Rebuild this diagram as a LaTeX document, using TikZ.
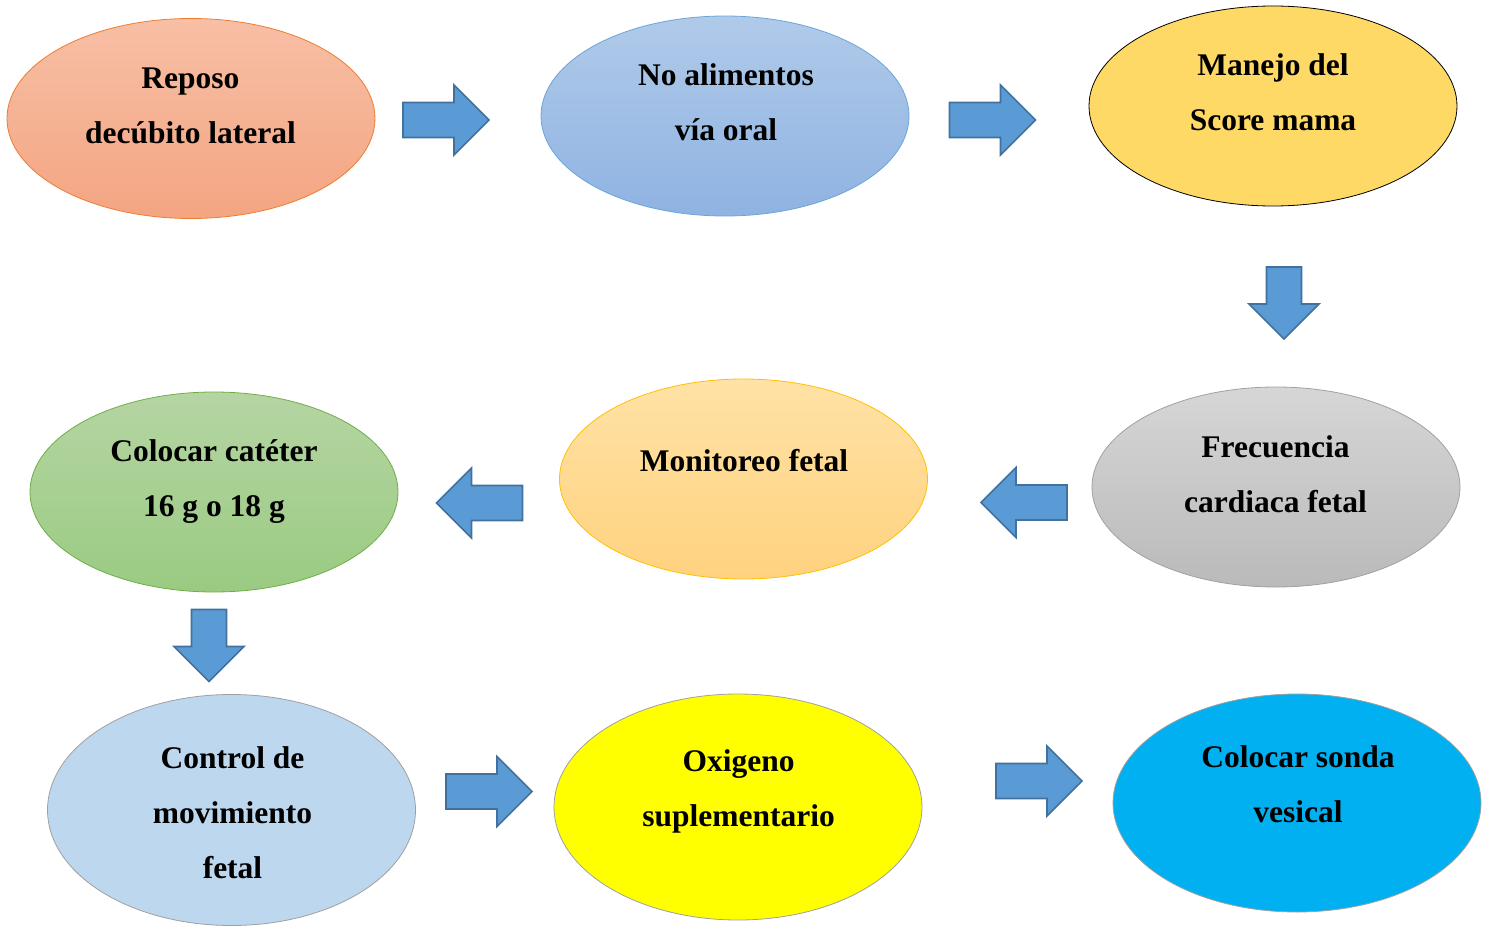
\documentclass[tikz,border=0pt]{standalone}
\usepackage{fontspec}
\setmainfont{Liberation Serif}
\usepackage{tikz}
\usetikzlibrary{shapes.geometric}

\definecolor{naranja}{HTML}{ED7D31}
\definecolor{azul}{HTML}{5B9BD5}
\definecolor{azuloscuro}{HTML}{41719C}
\definecolor{gris}{HTML}{A0A0A0}
\definecolor{verde}{HTML}{70AD47}
\definecolor{oro}{HTML}{FFC000}

\tikzset{
  burbuja/.style={ellipse, draw, line width=0.8pt, inner sep=0pt,
    minimum width=368pt, minimum height=200pt},
  texto/.style={align=center, font=\fontsize{31.5}{55}\selectfont\bfseries},
  flechaazul/.style={fill=azul, draw=azuloscuro, line width=1.6pt, line join=miter},
  pics/flecha/.style={code={
    \draw[flechaazul] (-#1,-17.5) -- ({#1-35},-17.5) -- ({#1-35},-35) -- (#1,0)
      -- ({#1-35},35) -- ({#1-35},17.5) -- (-#1,17.5) -- cycle;}}
}

\begin{document}
\begin{tikzpicture}[x=1pt,y=-1pt]
  \useasboundingbox (0,0) rectangle (1489,926);

  % fila de arriba
  \node[burbuja, draw=naranja, top color={rgb,255:red,247;green,191;blue,165},
    bottom color={rgb,255:red,244;green,165;blue,130}] (reposo) at (191,118.5) {};
  \node[burbuja, draw=azul!90, top color={rgb,255:red,176;green,202;blue,233},
    bottom color={rgb,255:red,143;green,179;blue,226}] (ayuno) at (725,116) {};
  \node[burbuja, draw=black, fill={rgb,255:red,255;green,217;blue,102}] (score) at (1273,106) {};

  % fila del medio
  \node[burbuja, draw=gris, top color={rgb,255:red,214;green,214;blue,214},
    bottom color={rgb,255:red,186;green,186;blue,186}] (fcf) at (1276,487) {};
  \node[burbuja, draw=oro, top color={rgb,255:red,255;green,226;blue,166},
    bottom color={rgb,255:red,255;green,210;blue,127}] (monitoreo) at (743.5,479) {};
  \node[burbuja, draw=verde, top color={rgb,255:red,181;green,213;blue,163},
    bottom color={rgb,255:red,154;green,203;blue,130}] (cateter) at (214,492) {};

  % fila de abajo
  \node[burbuja, draw=gris, fill={rgb,255:red,189;green,215;blue,238},
    minimum height=231pt] (movimiento) at (231.5,810) {};
  \node[burbuja, draw=gris, fill={rgb,255:red,255;green,255;blue,0},
    minimum height=226pt] (oxigeno) at (738,807) {};
  \node[burbuja, draw=gris, fill={rgb,255:red,0;green,176;blue,240},
    minimum height=218pt] (sonda) at (1297,803) {};

  % textos
  \node[texto] (t-reposo) at (190.5,106) {Reposo\\decúbito lateral};
  \node[texto] (t-ayuno) at (726,102) {No alimentos\\vía oral};
  \node[texto] (t-score) at (1273,92) {Manejo del\\Score mama};
  \node[texto] (t-fcf) at (1275.5,474) {Frecuencia\\cardiaca fetal};
  \node[texto] (t-monitoreo) at (744,461) {Monitoreo fetal};
  \node[texto] (t-cateter) at (214,482) {Colocar catéter\\16 g o 18 g};
  \node[texto] (t-movimiento) at (232.5,813) {Control de\\movimiento\\fetal};
  \node[texto] (t-oxigeno) at (738.5,791) {Oxigeno\\suplementario};
  \node[texto] (t-sonda) at (1298,784) {Colocar sonda\\vesical};

  % flechas
  \pic at (446,120) {flecha=43};
  \pic at (992.5,120) {flecha=43};
  \pic[rotate=-90] at (1284,303) {flecha=36};
  \pic[rotate=180] at (1024,502.5) {flecha=43};
  \pic[rotate=180] at (479.5,503) {flecha=43};
  \pic[rotate=-90] at (209,645.5) {flecha=36};
  \pic at (489,791.5) {flecha=43};
  \pic at (1039,781) {flecha=43};
\end{tikzpicture}
\end{document}
